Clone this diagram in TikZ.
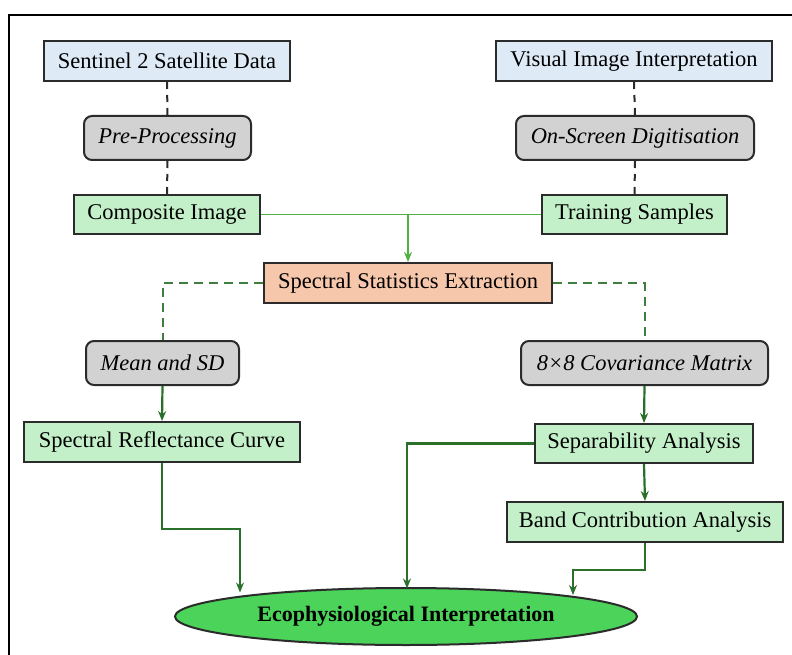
\documentclass[tikz,border=0pt]{standalone}
\usepackage{fontspec}
\setmainfont{Liberation Serif}
\usetikzlibrary{shapes.geometric,arrows.meta}
\definecolor{bluef}{HTML}{DEEBF7}
\definecolor{grayf}{HTML}{D2D2D2}
\definecolor{greenf}{HTML}{C3F0C8}
\definecolor{salmonf}{HTML}{F6C7AB}
\definecolor{ellf}{HTML}{4BD35A}
\definecolor{lgline}{HTML}{52B044}
\definecolor{dgline}{HTML}{2A702A}
\definecolor{edge}{HTML}{2B2B2B}
\begin{document}
\begin{tikzpicture}[x=1pt,y=-1pt,
  base/.style={draw=edge,line width=2pt,inner sep=0pt,align=center,font=\fontsize{22.5}{25}\selectfont},
  bluebox/.style={base,fill=bluef},
  procbox/.style={base,fill=grayf,rounded corners=8pt,font=\fontsize{22.5}{25}\selectfont\itshape},
  greenbox/.style={base,fill=greenf},
  salmonbox/.style={base,fill=salmonf},
  dashblack/.style={draw=edge,line width=2pt,dash pattern=on 7pt off 6pt},
  dashgreen/.style={draw=dgline!90!white,line width=2pt,dash pattern=on 9pt off 6pt},
  lgarrow/.style={draw=lgline,line width=1.8pt},
  dgarrow/.style={draw=dgline,line width=2.2pt},
  tip/.style={-{Stealth[length=10pt,width=8pt]}}
]
\useasboundingbox (0,0) rectangle (792,655);
\fill[white] (0,0) rectangle (792,655);
\draw[black,line width=2pt] (9,655) -- (9,15) -- (792,15);

\node[bluebox,minimum width=246pt,minimum height=40pt] (s2) at (167,61) {Sentinel 2 Satellite Data};
\node[procbox,minimum width=167pt,minimum height=44pt] (pp) at (167.5,138) {Pre-Processing};
\node[greenbox,minimum width=186pt,minimum height=39pt] (ci) at (167,214.5) {Composite Image};

\node[bluebox,minimum width=276pt,minimum height=40pt] (vi) at (634,61) {Visual Image Interpretation};
\node[procbox,minimum width=238pt,minimum height=44pt] (os) at (635,138) {On-Screen Digitisation};
\node[greenbox,minimum width=185pt,minimum height=39pt] (ts) at (634.5,214.5) {Training Samples};

\node[salmonbox,minimum width=288pt,minimum height=40pt] (sse) at (408,283) {Spectral Statistics Extraction};

\node[procbox,minimum width=153pt,minimum height=44pt] (msd) at (162.5,363) {Mean and SD};
\node[procbox,minimum width=247pt,minimum height=44pt] (cov) at (644.5,363) {8×8 Covariance Matrix};

\node[greenbox,minimum width=276pt,minimum height=40pt] (src) at (162,442) {Spectral Reflectance Curve};
\node[greenbox,minimum width=218pt,minimum height=39pt] (sa) at (644,443.5) {Separability Analysis};
\node[greenbox,minimum width=276pt,minimum height=40pt] (bca) at (645,522) {Band Contribution Analysis};

\node[ellipse,draw=edge,line width=2pt,fill=ellf,minimum width=462pt,minimum height=57pt,inner sep=0pt,font=\fontsize{22}{24}\selectfont\bfseries] (eco) at (406,616.5) {Ecophysiological Interpretation};

% dashed black
\draw[dashblack] (s2.south) -- (pp.north);
\draw[dashblack] (pp.south) -- (ci.north);
\draw[dashblack] (vi.south) -- (os.north);
\draw[dashblack] (os.south) -- (ts.north);

% light green merge
\coordinate (mj) at (408,214.5);
\draw[lgarrow] (ci.east) -- (ts.west);
\draw[lgarrow,tip] (mj) -- (sse.north);

% dashed green
\draw[dashgreen] (sse.west) -| (msd.north);
\draw[dashgreen] (sse.east) -| (cov.north);

% dark green arrows
\draw[dgarrow,tip] (msd.south) -- (src.north);
\draw[dgarrow,tip] (cov.south) -- (sa.north);
\draw[dgarrow,tip] (sa.south) -- (bca.north);

\coordinate (r1) at (162,529);
\coordinate (r2) at (240,529);
\coordinate (r3) at (240,592.5);
\draw[dgarrow,tip] (src.south) -- (r1) -- (r2) -- (r3);

\coordinate (m1) at (407,443.5);
\coordinate (m2) at (407,588.5);
\draw[dgarrow,tip] (sa.west) -- (m1) -- (m2);

\coordinate (b1) at (645,570);
\coordinate (b2) at (573,570);
\coordinate (b3) at (573,595);
\draw[dgarrow,tip] (bca.south) -- (b1) -- (b2) -- (b3);
\end{tikzpicture}
\end{document}
